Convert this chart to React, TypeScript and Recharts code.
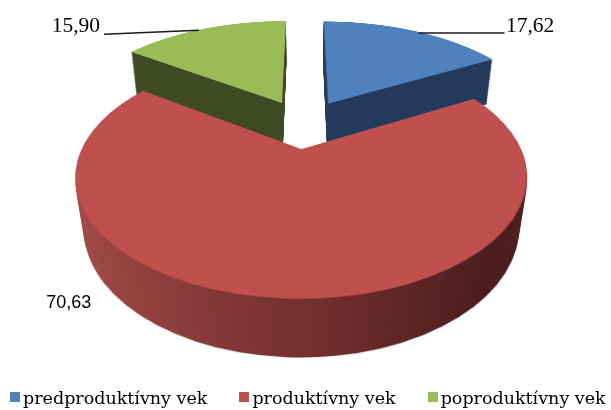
import React from 'react';
import { PieChart, Pie, Cell, Legend } from 'recharts';

const categories = ['predproduktívny vek', 'produktívny vek', 'poproduktívny vek'];
const values = [17.62, 70.63, 15.9];
const valueLabels = ['17,62', '70,63', '15,90'];
const topColors = ['#4f81bd', '#c0504d', '#9bbb59'];
const sideColors = ['#243a5c', 'RED_GRADIENT', '#3e4a23'];

const data = categories.map((name, i) => ({ name, value: values[i], label: valueLabels[i] }));

// geometry / style
const W = 611;
const H = 410;
const OX = 304;
const OY = 123.9;
const FLAT_W = 611;
const FLAT_H = 700;
const CY = 350;
const R = 208.5;
const TILT = 60.2;
const PERSP = 822.5;
const DEPTH = 59;
const EXPLODE = [50, 48, 50];
const RADIUS_SCALE = [1.06, 1, 1.06];

const total = values.reduce((a, b) => a + b, 0);
const midAngles: number[] = [];
{
  let acc = 0;
  values.forEach((v) => {
    const sweep = (v / total) * 360;
    midAngles.push(acc + sweep / 2);
    acc += sweep;
  });
}
const rad = (d: number) => (d * Math.PI) / 180;
const offsets = midAngles.map((m, i) => ({
  du: EXPLODE[i] * Math.sin(rad(m)),
  dv: -EXPLODE[i] * Math.cos(rad(m)),
}));

function project(u: number, v: number, h: number) {
  const c = Math.cos(rad(TILT));
  const s = Math.sin(rad(TILT));
  const y1 = v * c + h * s;
  const z1 = v * s - h * c;
  const k = PERSP / (PERSP - z1);
  return { x: OX + u * k, y: OY + y1 * k };
}

function Layer({ h, top }: { h: number; top: boolean }) {
  const gid = `redSide${h}`;
  return (
    <div
      style={{
        position: 'absolute',
        left: 0,
        top: OY - CY,
        width: FLAT_W,
        height: FLAT_H,
        transformOrigin: `${OX}px ${CY}px`,
        transform: `perspective(${PERSP}px) rotateX(${TILT}deg) translateZ(${-h}px)`,
      }}
    >
      <PieChart width={FLAT_W} height={FLAT_H} margin={{ top: 0, right: 0, bottom: 0, left: 0 }}>
        <defs>
          <linearGradient id={gid} gradientUnits="userSpaceOnUse" x1={OX - R} y1={0} x2={OX + R} y2={0}>
            <stop offset="0" stopColor="#a64b48" />
            <stop offset="0.5" stopColor="#732f2d" />
            <stop offset="0.85" stopColor="#4b1c1c" />
            <stop offset="1" stopColor="#4f1e1d" />
          </linearGradient>
        </defs>
        {data.map((_, j) => (
          <Pie
            key={j}
            data={data}
            dataKey="value"
            nameKey="name"
            cx={OX + offsets[j].du}
            cy={CY + offsets[j].dv}
            outerRadius={R * RADIUS_SCALE[j]}
            innerRadius={0}
            startAngle={90}
            endAngle={-270}
            stroke="none"
            isAnimationActive={false}
          >
            {data.map((__, i) => {
              let fill = 'none';
              if (i === j) {
                if (top) fill = topColors[i];
                else fill = sideColors[i] === 'RED_GRADIENT' ? `url(#${gid})` : sideColors[i];
              }
              return <Cell key={i} fill={fill} stroke="none" />;
            })}
          </Pie>
        ))}
      </PieChart>
    </div>
  );
}

const SERIF = 'Liberation Serif, Times New Roman, serif';
const LABEL_STYLE = [
  { shift: 0, depth: 0, line: [4.3, 2.2, 90.3, 2.2], text: [91.8, 1.2], anchor: 'start', font: SERIF, size: 21.5 },
  { shift: 52, depth: DEPTH, line: null, text: [-56, 27], anchor: 'start', font: 'Liberation Sans, Arial, sans-serif', size: 18 },
  { shift: 0, depth: 0, line: [-5.2, 1.6, -100.2, 5.6], text: [-104.2, 3.6], anchor: 'end', font: SERIF, size: 21.5 },
];

function renderLabel(props: any) {
  const { index, midAngle } = props;
  const st = LABEL_STYLE[index];
  const th = rad(90 - midAngle + st.shift);
  const rr = R * RADIUS_SCALE[index];
  const u = offsets[index].du + rr * Math.sin(th);
  const v = offsets[index].dv - rr * Math.cos(th);
  const a = project(u, v, st.depth);
  return (
    <g key={`lbl${index}`}>
      {st.line && (
        <line
          x1={a.x + st.line[0]}
          y1={a.y + st.line[1]}
          x2={a.x + st.line[2]}
          y2={a.y + st.line[3]}
          stroke="#1a1a1a"
          strokeWidth={1.6}
        />
      )}
      <text
        x={a.x + st.text[0]}
        y={a.y + st.text[1]}
        textAnchor={st.anchor as any}
        fontFamily={st.font}
        fontSize={st.size}
        fill="#000"
      >
        {data[index].label}
      </text>
    </g>
  );
}

function renderLegend() {
  return (
    <div
      style={{
        display: 'flex',
        alignItems: 'center',
        whiteSpace: 'nowrap',
        fontFamily: 'DejaVu Serif, serif',
        fontSize: 17.5,
        color: '#000',
        lineHeight: '22px',
      }}
    >
      {data.map((e, i) => (
        <span key={i} style={{ display: 'inline-flex', alignItems: 'center', marginRight: 32 }}>
          <span style={{ display: 'inline-block', width: 10, height: 10, background: topColors[i], marginRight: 3, position: 'relative', top: -1 }} />
          {e.name}
        </span>
      ))}
    </div>
  );
}

const layers: number[] = [];
for (let h = DEPTH; h >= 1; h--) layers.push(h);

export default function App() {
  return (
    <div style={{ position: 'absolute', left: 0, top: 0, width: W, height: H, overflow: 'hidden', background: '#fff' }}>
      {layers.map((h) => (
        <Layer key={h} h={h} top={false} />
      ))}
      <Layer h={0} top={true} />
      <div style={{ position: 'absolute', left: 0, top: 0 }}>
        <PieChart width={W} height={H} margin={{ top: 0, right: 0, bottom: 0, left: 0 }}>
          <Pie
            data={data}
            dataKey="value"
            nameKey="name"
            cx={OX}
            cy={OY}
            outerRadius={1}
            startAngle={90}
            endAngle={-270}
            stroke="none"
            isAnimationActive={false}
            label={renderLabel}
            labelLine={false}
          >
            {data.map((_, i) => (
              <Cell key={i} fill={topColors[i]} fillOpacity={0} />
            ))}
          </Pie>
          <Legend
            content={renderLegend}
            wrapperStyle={{ position: 'absolute', left: 10, top: 387, width: 660, height: 22 }}
          />
        </PieChart>
      </div>
    </div>
  );
}
